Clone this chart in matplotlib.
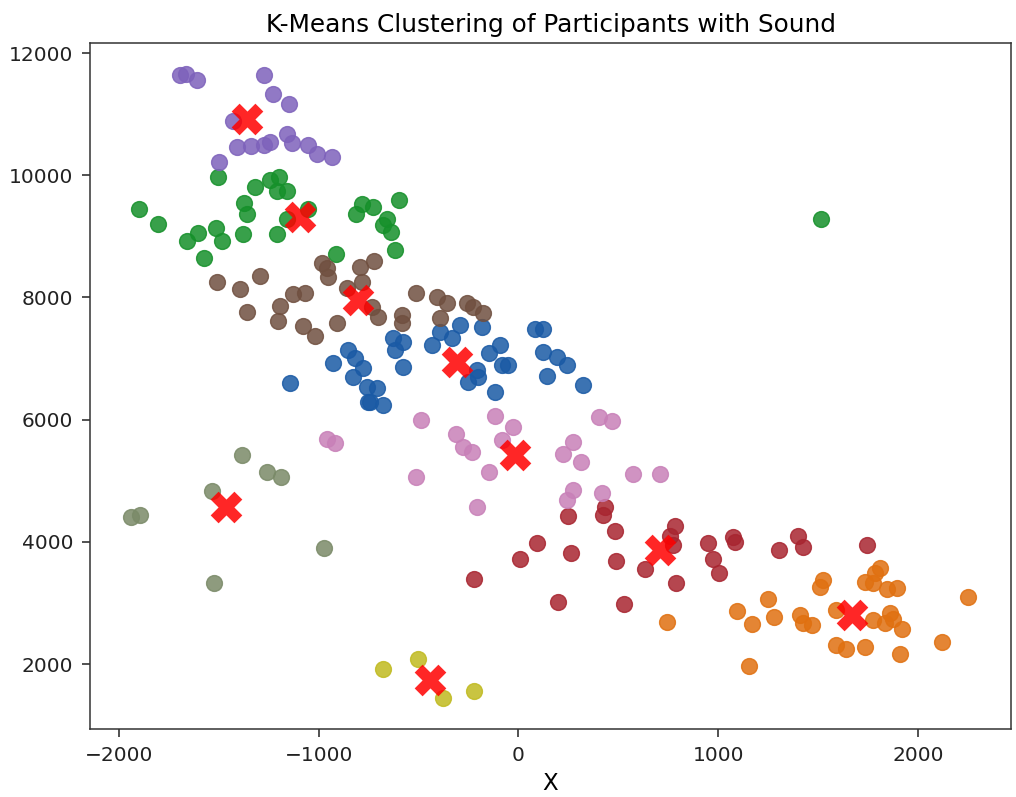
import matplotlib.pyplot as plt
import numpy as np

# Координаты участников по кластерам (X, Y)
purple_x = [-1695, -1665, -1608, -1274, -1230, -1147, -1428, -1411, -1341, -1274, -1244, -1160, -1135, -1052, -1010, -935, -1498]
purple_y = [11635, 11656, 11553, 11635, 11324, 11170, 10887, 10461, 10473, 10489, 10543, 10679, 10527, 10489, 10352, 10298, 10216]

green_x = [-1503, -1898, -1803, -1661, -1603, -1514, -1486, -1574, -1374, -1361, -1381, -1319, -1244, -1197, -1210, -1160,
           -1207, -1160, -1052, -785, -813, -727, -597, -660, -680, -638, -618, -914, 1514]
green_y = [9970, 9451, 9206, 8922, 9053, 9140, 8922, 8649, 9549, 9369, 9032, 9806, 9916, 9970, 9741, 9741,
           9042, 9287, 9451, 9533, 9369, 9479, 9589, 9287, 9179, 9070, 8770, 8715, 9280]

brown_x = [-1511, -1394, -1294, -1358, -1194, -1202, -1127, -1069, -1077, -1019, -985, -957, -952, -907, -860, -793,
           -723, -785, -735, -702, -585, -585, -513, -410, -359, -393, -259, -226, -176]
brown_y = [8246, 8132, 8350, 7765, 7858, 7618, 8055, 8076, 7531, 7367, 8567, 8476, 8328, 7585, 8148, 8502,
           8595, 8256, 7847, 7683, 7711, 7575, 8076, 8011, 7903, 7657, 7903, 7837, 7739]

blue_x = [-927, -852, -818, -777, -827, -760, -710, -752, -677, -627, -577, -618, -580, -435, -393, -334, -293, -184,
          -251, -209, -201, -146, -93, -84, -51, -118, 83, 121, 124, 191, 241, 141, 324, -1144, -743]
blue_y = [6920, 7138, 7002, 6839, 6701, 6537, 6511, 6292, 6238, 7330, 7274, 7138, 6865, 7220, 7438, 7330, 7547, 7510,
          6619, 6811, 6701, 7084, 7220, 6893, 6893, 6456, 7477, 7477, 7110, 7029, 6893, 6713, 6565, 6593, 6292]

pink_x = [-490, -960, -919, -313, -276, -234, -118, -29, -83, -146, -513, -209, 274, 223, 315, 403, 467, 575, 708, 271, 241, 416]
pink_y = [5992, 5676, 5621, 5758, 5555, 5473, 6058, 5878, 5665, 5146, 5067, 4573, 5637, 5444, 5310, 6046, 5976, 5108, 5108, 4846, 4683, 4792]

red_x = [249, 433, 425, 483, 488, 261, 91, 8, -223, 199, 528, 783, 758, 775, 633, 788, 950, 972, 1005, 1075, 1084, 1306, 1401, 1423, 1743]
red_y = [4421, 4573, 4437, 4183, 3692, 3820, 3984, 3712, 3385, 3018, 2980, 4265, 4093, 3946, 3548, 3329, 3974, 3712, 3493, 4082, 4000, 3864, 4093, 3918, 3946]

orange_x = [742, 1155, 1092, 1167, 1250, 1279, 1409, 1426, 1468, 1526, 1509, 1589, 1589, 1639, 1735, 1810, 1785, 1735,
            1773, 1846, 1896, 1860, 1835, 1876, 1918, 1776, 1910, 2119, 2252]
orange_y = [2690, 1965, 2870, 2653, 3057, 2772, 2800, 2674, 2636, 3373, 3264, 2882, 2309, 2239, 2271, 3565, 3483, 3345,
            3329, 3221, 3238, 2828, 2664, 2730, 2566, 2718, 2162, 2363, 3090]

gray_x = [-1386, -1258, -1190, -1536, -1941, -1895, -974, -1524]
gray_y = [5419, 5136, 5054, 4835, 4409, 4437, 3892, 3329]

olive_x = [-677, -503, -378, -223]
olive_y = [1911, 2079, 1441, 1556]

# Центры кластеров
centers_x = [-1361, -1094, -802, -309, -18, 708, 1668, -1464, -443]
centers_y = [10925, 9315, 7957, 6947, 5419, 3864, 2800, 4563, 1736]

clusters = [
    (blue_x, blue_y, '#1a5aa5'),
    (orange_x, orange_y, '#e07010'),
    (green_x, green_y, '#15902a'),
    (red_x, red_y, '#a82530'),
    (purple_x, purple_y, '#7e62bb'),
    (brown_x, brown_y, '#705040'),
    (pink_x, pink_y, '#c880b8'),
    (gray_x, gray_y, '#7a8a68'),
    (olive_x, olive_y, '#c0ba20'),
]

fig = plt.figure(figsize=(10.16, 7.97), dpi=100)
ax = fig.add_axes([0.0886, 0.0853, 0.9065, 0.8607])

for xs, ys, col in clusters:
    ax.scatter(xs, ys, s=130, color=col, alpha=0.85)

ax.scatter(centers_x, centers_y, s=520, c='red', marker='X', alpha=0.85, linewidths=0)

ax.set_xlim(-2145, 2466)
ax.set_ylim(936, 12164)
ax.set_xticks([-2000, -1000, 0, 1000, 2000])
ax.set_yticks([2000, 4000, 6000, 8000, 10000, 12000])
ax.tick_params(labelsize=14.5, length=6, width=1.1, pad=6, colors='#222222')
for sp in ax.spines.values():
    sp.set_linewidth(1.1)
    sp.set_color('#333333')

ax.set_title('K-Means Clustering of Participants with Sound', fontsize=17.8, pad=8)
ax.set_xlabel('X', fontsize=16.5, labelpad=5)

plt.savefig('out.png', dpi=100)
